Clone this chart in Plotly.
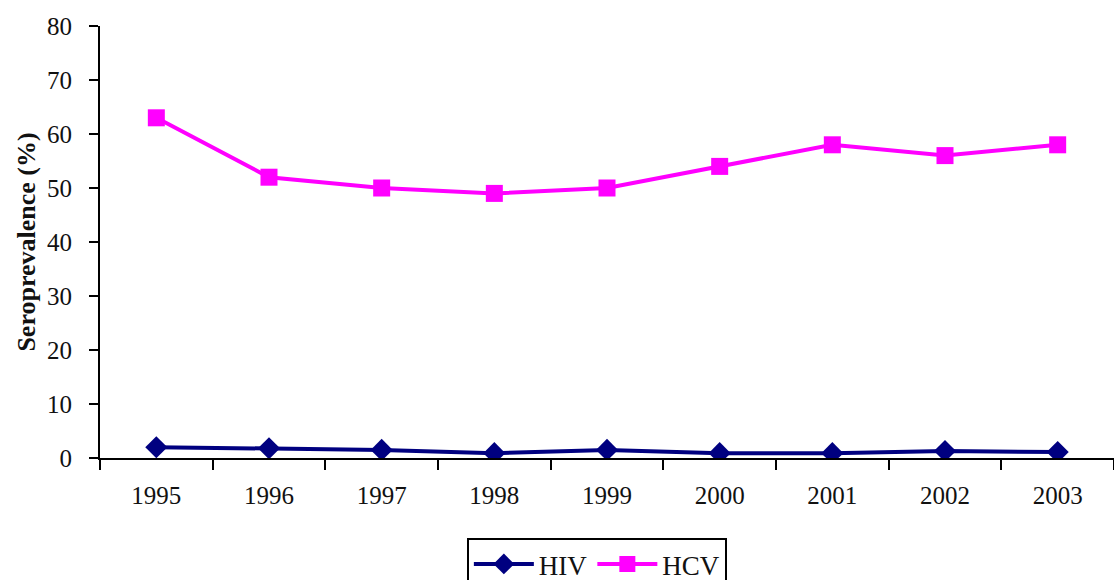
import plotly.graph_objects as go

years = ["1995", "1996", "1997", "1998", "1999", "2000", "2001", "2002", "2003"]
hiv = [2.0, 1.8, 1.5, 0.9, 1.5, 0.9, 0.9, 1.3, 1.1]
hcv = [63, 52, 50, 49, 50, 54, 58, 56, 58]

font_family = "Liberation Serif, DejaVu Serif, serif"

fig = go.Figure()
fig.add_trace(go.Scatter(
    x=years, y=hiv, name="HIV", mode="lines+markers",
    line=dict(color="#000080", width=4),
    marker=dict(symbol="diamond", size=17, color="#000080"),
))
fig.add_trace(go.Scatter(
    x=years, y=hcv, name="HCV", mode="lines+markers",
    line=dict(color="#FF00FF", width=4),
    marker=dict(symbol="square", size=17, color="#FF00FF"),
))

fig.update_layout(
    width=1114, height=580,
    margin=dict(l=100, r=0, t=26, b=122, autoexpand=False),
    paper_bgcolor="white", plot_bgcolor="white",
    font=dict(family=font_family, size=25, color="#111111"),
    showlegend=True,
    legend=dict(
        orientation="h", x=0.49, xanchor="center", y=-0.185, yanchor="top",
        bordercolor="black", borderwidth=2, font=dict(size=27),
        itemwidth=60,
    ),
    xaxis=dict(
        type="category", range=[-0.5, 8.5], automargin=False,
        showline=True, linecolor="black", linewidth=2,
        ticks="outside", tickson="boundaries", ticklen=10, tickwidth=2, tickcolor="black",
        showgrid=False, zeroline=False,
        tickfont=dict(size=25), ticklabelstandoff=14,
    ),
    yaxis=dict(
        range=[0, 80], tickvals=[0, 10, 20, 30, 40, 50, 60, 70, 80], automargin=False,
        showline=True, linecolor="black", linewidth=2,
        ticks="outside", ticklen=9, tickwidth=2, tickcolor="black",
        showgrid=False, zeroline=False,
        tickfont=dict(size=25), ticklabelstandoff=12,
        title=dict(text="<b>Seroprevalence (%)</b>", font=dict(size=26), standoff=4),
    ),
)

fig.write_html("out.html")
